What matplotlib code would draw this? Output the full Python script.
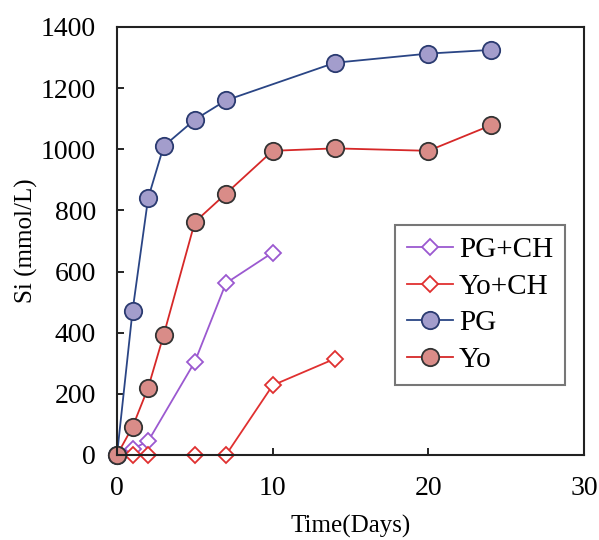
import matplotlib
matplotlib.use("Agg")
import matplotlib.pyplot as plt

plt.rcParams['font.family'] = ['Liberation Serif', 'DejaVu Serif']

days_pg = [0, 1, 2, 3, 5, 7, 14, 20, 24]
si_pg = [0, 472, 840, 1010, 1097, 1160, 1283, 1313, 1325]

days_yo = [0, 1, 2, 3, 5, 7, 10, 14, 20, 24]
si_yo = [0, 92, 220, 393, 762, 855, 995, 1003, 995, 1078]

days_pgch = [0, 1, 2, 5, 7, 10]
si_pgch = [0, 20, 45, 305, 562, 662]

days_yoch = [1, 2, 5, 7, 10, 14]
si_yoch = [0, 0, 0, 0, 228, 315]

fig = plt.figure(figsize=(5.99, 5.4), dpi=100)
# axes box in pixels: x 117..584, y 27..455
ax = fig.add_axes([117/599, 1-455/540, 467/599, 428/540])

l1, = ax.plot(days_pgch, si_pgch, color='#9b59d0', lw=1.3, marker='D', ms=8,
              mfc='white', mec='#9b59d0', mew=1.3, label='PG+CH')
l2, = ax.plot(days_yoch, si_yoch, color='#e03030', lw=1.3, marker='D', ms=8,
              mfc='white', mec='#e03030', mew=1.3, label='Yo+CH')
l3, = ax.plot(days_pg, si_pg, color='#2a4585', lw=1.3, marker='o', ms=12.5,
              mfc='#a39dcc', mec='#2a3a70', mew=1.3, label='PG')
l4, = ax.plot(days_yo, si_yo, color='#d62828', lw=1.3, marker='o', ms=12.5,
              mfc='#d98c88', mec='#333333', mew=1.3, label='Yo')
for ln in (l1, l2, l3, l4):
    ln.set_clip_on(False)

ax.set_xlim(0, 30)
ax.set_ylim(0, 1400)
ax.set_xticks([0, 10, 20, 30])
ax.set_yticks(range(0, 1401, 200))
ax.tick_params(direction='in', labelsize=20, length=5, width=1.2, pad=15)
for s in ax.spines.values():
    s.set_linewidth(1.5)
    s.set_color('#222222')

ax.set_xlabel('Time(Days)', fontsize=18, labelpad=10)
ax.set_ylabel('Si (mmol/L)', fontsize=18, labelpad=2)

leg = ax.legend(handles=[l1, l2, l3, l4], loc='upper left',
                bbox_to_anchor=(395/599, 1-225/540), bbox_transform=fig.transFigure,
                borderaxespad=0, fontsize=21, frameon=True,
                fancybox=False, edgecolor='#555555', handlelength=1.6,
                handletextpad=0.2, borderpad=0.4, labelspacing=0.35)
leg.get_frame().set_linewidth(1.5)

fig.savefig('out.png', dpi=100)
